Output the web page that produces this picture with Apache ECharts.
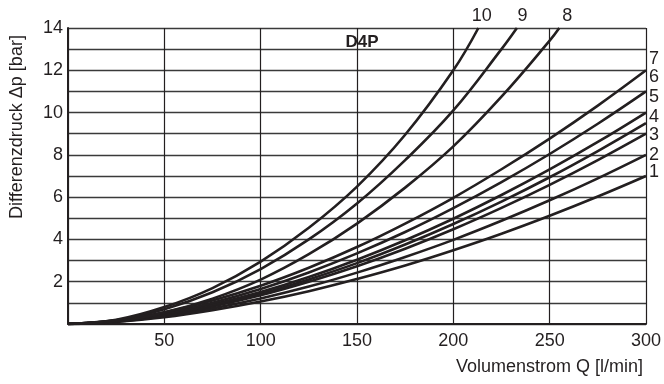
<!DOCTYPE html>
<html>
<head>
<meta charset="utf-8">
<script src="https://cdn.jsdelivr.net/npm/echarts@6/dist/echarts.min.js"></script>
<style>html,body{margin:0;padding:0;background:#fff}#c{width:664px;height:384px}</style>
</head>
<body>
<div id="c"></div>
<script>
// Flow rate Q [l/min] sample points for curves 1-7
var Q = [0, 25, 50, 75, 100, 125, 150, 175, 200, 225, 250, 275, 300];
var curve1 = [0, 0.10, 0.32, 0.65, 1.06, 1.55, 2.13, 2.77, 3.49, 4.27, 5.12, 6.03, 7.0];
var curve2 = [0, 0.11, 0.37, 0.74, 1.21, 1.77, 2.43, 3.17, 3.98, 4.88, 5.85, 6.89, 8.0];
var curve3 = [0, 0.13, 0.41, 0.83, 1.36, 2.00, 2.73, 3.56, 4.48, 5.49, 6.58, 7.75, 9.0];
var curve4 = [0, 0.13, 0.44, 0.88, 1.43, 2.11, 2.88, 3.76, 4.73, 5.79, 6.94, 8.18, 9.5];
var curve5 = [0, 0.14, 0.46, 0.92, 1.51, 2.22, 3.04, 3.96, 4.98, 6.10, 7.31, 8.61, 10.0];
var curve6 = [0, 0.15, 0.50, 1.01, 1.66, 2.44, 3.34, 4.35, 5.48, 6.71, 8.04, 9.47, 11.0];
var curve7 = [0, 0.17, 0.55, 1.11, 1.81, 2.66, 3.64, 4.75, 5.97, 7.32, 8.77, 10.33, 12.0];
// Steeper curves 8-10 (leave chart at top)
var Q8 = [0, 25, 50, 75, 100, 125, 150, 175, 200, 225, 250, 255];
var curve8 = [0, 0.13, 0.55, 1.2, 2.1, 3.3, 4.75, 6.45, 8.4, 10.75, 13.4, 14.0];
var Q9 = [0, 25, 50, 75, 100, 125, 150, 175, 200, 225, 233];
var curve9 = [0, 0.17, 0.7, 1.5, 2.6, 4.0, 5.7, 7.75, 10.1, 13.0, 14.0];
var Q10 = [0, 25, 50, 75, 100, 125, 150, 175, 200, 213];
var curve10 = [0, 0.2, 0.8, 1.7, 2.95, 4.55, 6.5, 8.95, 12.0, 14.0];
// Curve labels
var rightLabelNames = ['1', '2', '3', '4', '5', '6', '7'];
var rightLabelValues = [7.2, 8.0, 8.94, 9.78, 10.75, 11.67, 12.52];
var topLabelNames = ['10', '9', '8'];
var topLabelQ = [214.8, 235.9, 259.1];
// Tick labels
var xTickLabels = [50, 100, 150, 200, 250, 300];
var yTickLabels = [2, 4, 6, 8, 10, 12, 14];

var FONT = 'Liberation Sans, Arial, Helvetica, sans-serif';
var INK = '#231f20';

function pairs(xs, ys) { return xs.map(function (x, i) { return [x, ys[i]]; }); }

var curves = [
  [Q, curve1], [Q, curve2], [Q, curve3], [Q, curve4], [Q, curve5], [Q, curve6], [Q, curve7],
  [Q8, curve8], [Q9, curve9], [Q10, curve10]
];

var series = curves.map(function (c, i) {
  return {
    type: 'line', name: String(i + 1), data: pairs(c[0], c[1]),
    smooth: 0.4, symbol: 'none', silent: true,
    lineStyle: { color: INK, width: 2.6 }
  };
});

var labelStyle = { show: true, formatter: '{b}', color: INK, opacity: 1, fontSize: 18, fontFamily: FONT };
series.push({
  type: 'scatter', symbolSize: 0, silent: true, clip: false,
  itemStyle: { opacity: 1 },
  data: rightLabelValues.map(function (v, i) { return { value: [300, v], name: rightLabelNames[i] }; }),
  label: Object.assign({ position: 'right', distance: 3 }, labelStyle)
});
series.push({
  type: 'scatter', symbolSize: 0, silent: true, clip: false,
  itemStyle: { opacity: 1 },
  data: topLabelQ.map(function (q, i) { return { value: [q, 14], name: topLabelNames[i] }; }),
  label: Object.assign({ position: 'top', distance: 3 }, labelStyle)
});

var chart = echarts.init(document.getElementById('c'), null, { renderer: 'canvas' });
chart.setOption({
  animation: false,
  backgroundColor: '#fff',
  title: {
    text: 'D4P', left: 357, top: 29, textAlign: 'center',
    textStyle: { fontSize: 17, fontWeight: 'bold', color: INK, fontFamily: FONT }
  },
  grid: { left: 66, right: 16, top: 28, bottom: 60 },
  xAxis: {
    type: 'value', min: 0, max: 300, interval: 50,
    name: 'Volumenstrom Q [l/min]', nameLocation: 'end', nameGap: -3,
    nameTextStyle: { align: 'right', verticalAlign: 'top', padding: [34, 0, 0, 0], fontSize: 18, color: INK, fontFamily: FONT },
    axisLine: { show: true, lineStyle: { color: INK, width: 2 } },
    axisTick: { show: false },
    axisLabel: {
      margin: 8, fontSize: 18, color: INK, fontFamily: FONT,
      formatter: function (v) { return xTickLabels.indexOf(v) >= 0 ? String(v) : ''; }
    },
    splitLine: { show: true, lineStyle: { color: INK, width: 1.2 } }
  },
  yAxis: {
    type: 'value', min: 0, max: 14, interval: 1,
    name: 'Differenzdruck Δp [bar]', nameLocation: 'middle', nameGap: 42, nameRotate: 90,
    nameTextStyle: { fontSize: 18, color: INK, fontFamily: FONT, padding: [0, 0, 0, 98] },
    axisLine: { show: true, lineStyle: { color: INK, width: 2 } },
    axisTick: { show: false },
    axisLabel: {
      margin: 5, fontSize: 18, color: INK, fontFamily: FONT,
      formatter: function (v) { return yTickLabels.indexOf(v) >= 0 ? String(v) : ''; }
    },
    splitLine: { show: true, lineStyle: { color: '#3a3a3a', width: 1.4 } }
  },
  series: series
});
</script>
</body>
</html>
